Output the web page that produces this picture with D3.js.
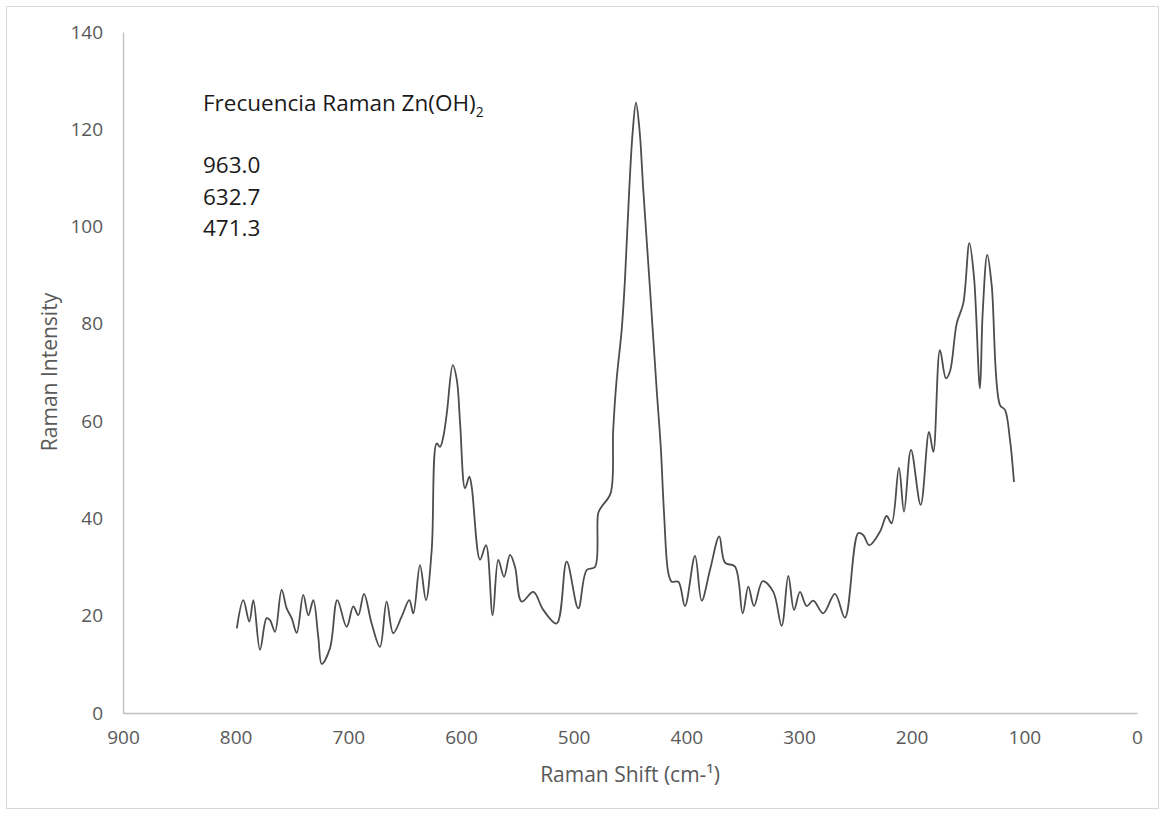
<!DOCTYPE html>
<html>
<head>
<meta charset="utf-8">
<script src="https://cdn.jsdelivr.net/npm/d3@7"></script>
<style>
  html, body { margin: 0; padding: 0; background: #fff; }
  svg text { font-family: "Open Sans", "Noto Sans", sans-serif; }
  .tick text { fill: #595959; font-size: 19px; }
  .label { fill: #595959; font-size: 21px; }
  .note { fill: #1a1a1a; font-size: 22.5px; }
</style>
</head>
<body>
<svg id="chart" width="1162" height="814"></svg>
<script>
// Raman spectrum of Zn(OH)2
const shift = [
  799, 793.2, 787.9, 784.3, 778.4, 772.5, 769.5, 765.1, 759.2, 754.7, 750.3, 745.8,
  740.0, 735.5, 731.1, 726.7, 723.6, 716.3, 709.8, 701.5, 695.6, 691.2, 686.1, 679.3,
  671.9, 666.0, 660.1, 652.7, 645.9, 642.3, 636.4, 631.1, 626.0, 621.6, 618.6, 615.7,
  612.6, 607.3, 603.7, 600.8, 596.4, 592.6, 590.5, 583.1, 577.8, 571.9, 566.9, 561.8,
  556.5, 552.1, 546.1, 535.8, 527.0, 515.1, 506.2, 495.9, 488.4, 481.1, 478.2, 475.2,
  467.2, 464.9, 461.9, 457.4, 454.5, 450.7, 447.6, 444.7, 441.6, 438.2, 432.2, 426.3,
  422.7, 419.8, 416.0, 413.0, 407.1, 401.2, 392.3, 386.4, 379.0, 370.8, 365.7, 356.8,
  350.0, 345.0, 339.9, 332.2, 322.8, 315.4, 309.5, 304.4, 299.1, 293.2, 287.3, 278.5,
  268.1, 259.2, 247.4, 243.0, 237.6, 228.1, 222.2, 217.8, 211.3, 206.8, 200.6, 192.0,
  184.6, 180.8, 174.9, 169.6, 166.0, 160.0, 154.2, 148.8, 144.7, 139.4, 137.0, 132.9,
  129.0, 121.6, 117.2, 112.7, 109.2
];
const intensity = [
  17.4, 23.2, 18.8, 23.2, 13.0, 19.5, 19.1, 16.7, 25.3, 21.5, 19.5, 16.5,
  24.3, 20.1, 23.2, 15.7, 10.1, 13.3, 23.2, 17.7, 21.9, 20.1, 24.5, 18.4,
  13.6, 22.9, 16.4, 19.8, 23.2, 20.5, 30.4, 23.2, 33.5, 55.4, 54.7, 56.8,
  61.6, 71.5, 68.5, 59.6, 46.2, 48.6, 46.5, 31.5, 34.5, 20.1, 31.5, 28.0,
  32.5, 30.1, 22.9, 24.9, 21.2, 18.4, 31.1, 21.5, 29.4, 30.0, 41.1, 42.4,
  45.2, 58.2, 68.5, 78.7, 89.0, 107.5, 119.5, 125.5, 120.0, 107.5, 87.0, 66.4,
  54.7, 41.1, 28.8, 27.0, 27.0, 22.0, 32.3, 23.1, 29.4, 36.3, 30.9, 30.1,
  20.5, 26.0, 22.0, 27.1, 24.9, 17.9, 28.2, 21.2, 24.9, 22.0, 23.1, 20.5,
  24.5, 19.6, 37.0, 36.6, 34.5, 37.3, 40.5, 39.0, 50.4, 41.4, 54.1, 42.8,
  57.8, 53.7, 74.6, 68.8, 70.2, 80.1, 84.2, 96.6, 89.7, 66.7, 82.1, 94.2,
  88.0, 63.3, 62.3, 56.1, 47.5
];
const xTicks = [900, 800, 700, 600, 500, 400, 300, 200, 100, 0];
const yTicks = [0, 20, 40, 60, 80, 100, 120, 140];
const peakValues = ["963.0", "632.7", "471.3"];

const svg = d3.select("#chart");

// outer chart border
svg.append("rect")
  .attr("x", 6.5).attr("y", 6.5)
  .attr("width", 1152).attr("height", 802)
  .attr("fill", "#fff")
  .attr("stroke", "#d9d9d9");

const x = d3.scaleLinear().domain([900, 0]).range([123, 1137]);
const y = d3.scaleLinear().domain([0, 140]).range([713, 32]);

const yAxis = svg.append("g")
  .attr("transform", "translate(123,0)")
  .call(d3.axisLeft(y).tickValues(yTicks).tickSize(0).tickSizeOuter(0).tickPadding(20));
yAxis.select(".domain").attr("stroke", "#bfbfbf").attr("stroke-width", 1.3);

const xAxis = svg.append("g")
  .attr("transform", "translate(0,713)")
  .call(d3.axisBottom(x).tickValues(xTicks).tickSize(0).tickSizeOuter(0).tickPadding(18));
xAxis.select(".domain").attr("stroke", "#bfbfbf").attr("stroke-width", 1.3);

const line = d3.line()
  .x((d, i) => x(shift[i]))
  .y((d) => y(d))
  .curve(d3.curveCatmullRom.alpha(0.5));

svg.append("path")
  .datum(intensity)
  .attr("fill", "none")
  .attr("stroke", "#4d4d4d")
  .attr("stroke-width", 1.8)
  .attr("stroke-linejoin", "round")
  .attr("d", line);

// axis titles
svg.append("text")
  .attr("class", "label")
  .attr("transform", "translate(57,372) rotate(-90)")
  .attr("text-anchor", "middle")
  .text("Raman Intensity");

svg.append("text")
  .attr("class", "label")
  .attr("x", 630)
  .attr("y", 782)
  .attr("text-anchor", "middle")
  .text("Raman Shift (cm-¹)");

// annotation
const note = svg.append("text")
  .attr("class", "note")
  .attr("x", 203)
  .attr("y", 111);
note.append("tspan").text("Frecuencia Raman Zn(OH)");
note.append("tspan").attr("dy", 6).attr("font-size", 14).text("2");

svg.selectAll(".peak")
  .data(peakValues)
  .enter()
  .append("text")
  .attr("class", "note peak")
  .attr("x", 203)
  .attr("y", (d, i) => 173 + i * 31.5)
  .text((d) => d);
</script>
</body>
</html>
